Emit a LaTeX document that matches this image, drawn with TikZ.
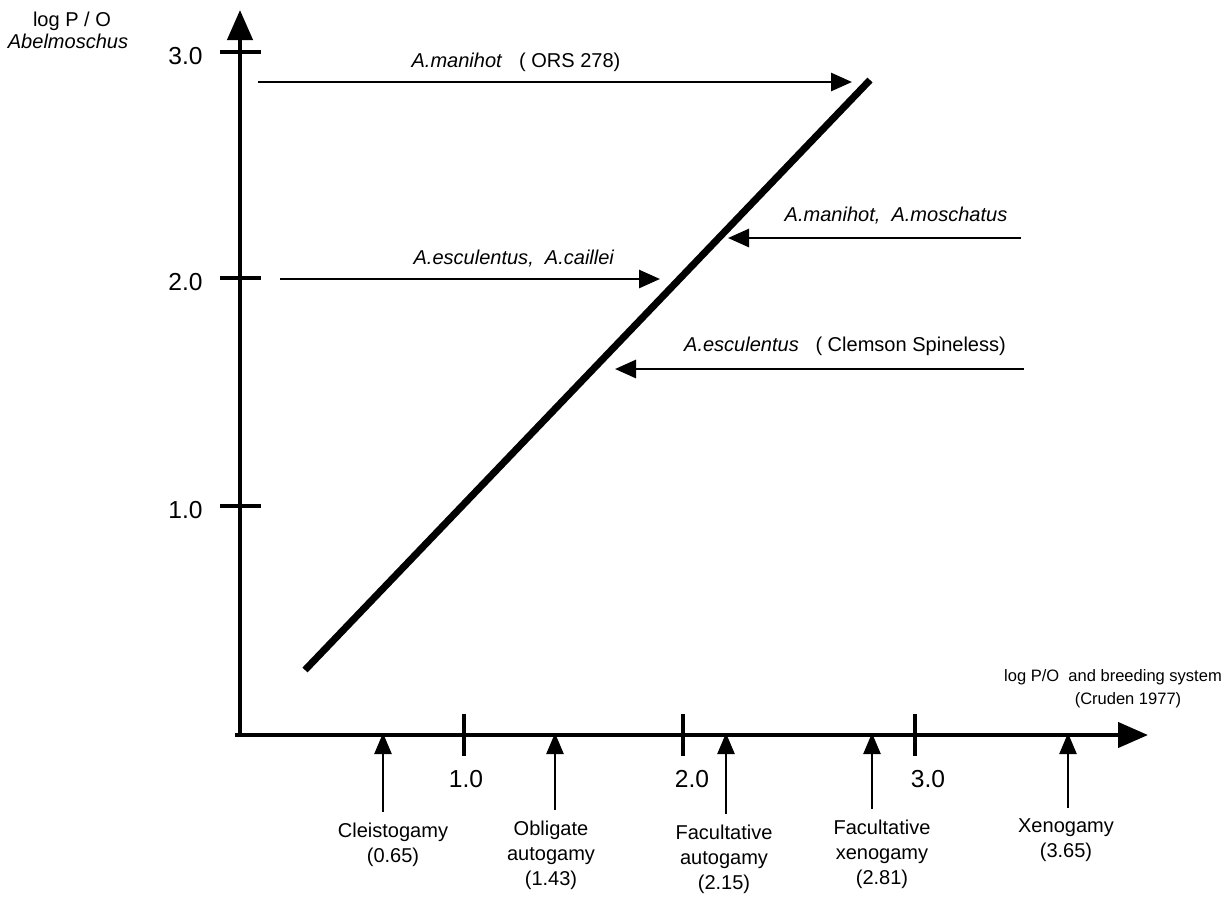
\documentclass[tikz,border=0pt]{standalone}
\usepackage{fontspec}
\setmainfont{Liberation Sans}
\usetikzlibrary{arrows.meta, positioning}

\begin{document}
\begin{tikzpicture}[
  x=0.02cm, y=-0.02cm,
  axis/.style={line width=2.5pt, -{Triangle[length=0.6cm, width=0.5cm]}},
  tick/.style={line width=2.3pt},
  ratio/.style={line width=4pt},
  arrow/.style={line width=1.6pt, -{Triangle[length=0.42cm, width=0.36cm]}},
  uparrow/.style={line width=1.4pt, -{Triangle[length=0.42cm, width=0.34cm]}},
  lbl/.style={font=\fontsize{11.4}{14.2}\selectfont, inner sep=1pt},
  small/.style={font=\fontsize{9.4}{11}\selectfont, inner sep=1pt},
  num/.style={font=\fontsize{14}{16}\selectfont, inner sep=0pt},
  sys/.style={lbl, align=center, anchor=north, inner ysep=6pt},
]
\useasboundingbox (0,0) rectangle (1228,897);

% axes
\coordinate (O)     at (240,737);
\coordinate (ytop)  at (240,10);
\coordinate (xbeg)  at (235,735);
\coordinate (xend)  at (1148,735);
\draw[axis] (O) -- (ytop);
\draw[axis] (xbeg) -- (xend);

\foreach \v/\py in {1/506, 2/278, 3/52}{
  \draw[tick] (220,\py) -- (261,\py);
  \node[num, anchor=east] (ylab\v) at (203,\py+4) {\v.0};
}
\foreach \v/\px/\lx in {1/464/466, 2/683/692, 3/915/928}{
  \draw[tick] (\px,714) -- (\px,756);
  \node[num] (xlab\v) at (\lx,779) {\v.0};
}

\node[lbl] (ytitle) at (72,21) {log P / O};
\node[lbl] (genus)  at (68,41) {\textit{Abelmoschus}};
\node[small] (xtitle) at (1113,677) {log P/O\ \ and breeding system};
\node[small] (cruden) at (1128,700) {(Cruden 1977)};

% P/O line
\coordinate (lo) at (305,670);
\coordinate (hi) at (870,80);
\draw[ratio] (lo) -- (hi);

% species
\coordinate (a1s) at (258,82);   \coordinate (a1e) at (852,82);
\coordinate (a2s) at (280,279);  \coordinate (a2e) at (660,279);
\coordinate (a3s) at (1021,238); \coordinate (a3e) at (728,238);
\coordinate (a4s) at (1024,369); \coordinate (a4e) at (615,369);
\node[lbl] (a1) at (516,62)  {\textit{A.manihot}\ \ \ ( ORS 278)};
\node[lbl] (a2) at (514,259) {\textit{A.esculentus,\ \ A.caillei}};
\node[lbl] (a3) at (896,216) {\textit{A.manihot,\ \ A.moschatus}};
\node[lbl] (a4) at (845,346) {\textit{A.esculentus}\ \ \ ( Clemson Spineless)};
\draw[arrow] (a1s) -- (a1e);
\draw[arrow] (a2s) -- (a2e);
\draw[arrow] (a3s) -- (a3e);
\draw[arrow] (a4s) -- (a4e);

% breeding systems
\coordinate (c1) at (383,733);
\coordinate (c2) at (555,733);
\coordinate (c3) at (726,733);
\coordinate (c4) at (872,733);
\coordinate (c5) at (1068,733);
\node[sys] (cleist) at (393,812)  {Cleistogamy\\(0.65)};
\node[sys] (oblaut) at (551,810)  {Obligate\\autogamy\\(1.43)};
\node[sys] (facaut) at (724,814)  {Facultative\\autogamy\\(2.15)};
\node[sys] (facxen) at (882,809)  {Facultative\\xenogamy\\(2.81)};
\node[sys] (xeno)   at (1066,808) {Xenogamy\\(3.65)};
\draw[uparrow] (cleist.north -| c1) -- (c1);
\draw[uparrow] (oblaut.north -| c2) -- (c2);
\draw[uparrow] (facaut.north -| c3) -- (c3);
\draw[uparrow] (facxen.north -| c4) -- (c4);
\draw[uparrow] (xeno.north -| c5)   -- (c5);
\end{tikzpicture}
\end{document}
